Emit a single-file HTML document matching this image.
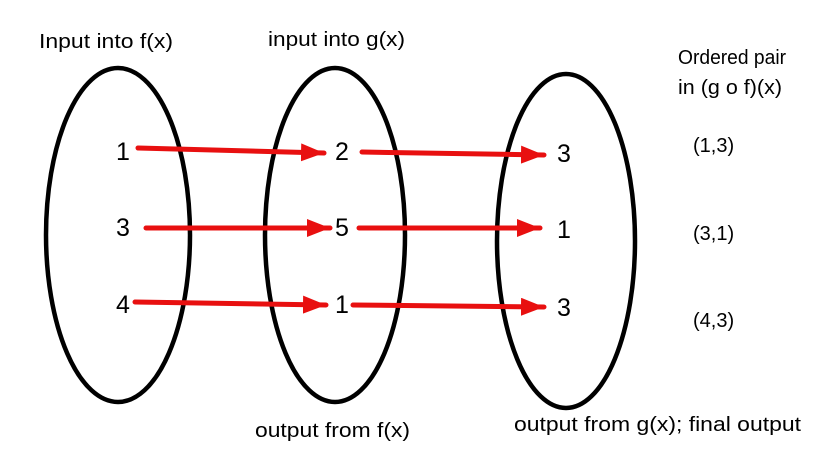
<!DOCTYPE html>
<html><head><style>body{margin:0;background:#fff}svg{display:block}</style></head><body>
<svg width="817" height="452" xmlns="http://www.w3.org/2000/svg" font-family="Liberation Sans, sans-serif">
<defs><marker id="a" markerWidth="4.6" markerHeight="3.6" refX="4.6" refY="1.8" orient="auto"><polygon points="0,0 4.6,1.8 0,3.6" fill="#e81010"/></marker></defs>
<g fill="none" stroke="#000" stroke-width="4.5">
<ellipse cx="118" cy="235" rx="72" ry="167"/>
<ellipse cx="335" cy="235" rx="70" ry="167"/>
<ellipse cx="566" cy="241" rx="69" ry="167"/>
</g>
<g stroke="#e81010" stroke-width="5" stroke-linecap="round" marker-end="url(#a)">
<line x1="138" y1="148" x2="324" y2="153"/>
<line x1="146" y1="228" x2="330" y2="228"/>
<line x1="135" y1="302" x2="326" y2="305"/>
<line x1="362" y1="152" x2="544" y2="155"/>
<line x1="359" y1="228" x2="540" y2="228"/>
<line x1="353" y1="305" x2="544" y2="307"/>
</g>
<g font-size="25" fill="#000" text-anchor="middle">
<text x="123" y="160">1</text><text x="123" y="236">3</text><text x="123" y="313">4</text>
<text x="342" y="160">2</text><text x="342" y="236">5</text><text x="342" y="313">1</text>
<text x="564" y="162">3</text><text x="564" y="238">1</text><text x="564" y="316">3</text>
</g>
<g font-size="20" fill="#000">
<text x="39" y="48" textLength="134" lengthAdjust="spacingAndGlyphs">Input into f(x)</text>
<text x="268" y="46" textLength="137" lengthAdjust="spacingAndGlyphs">input into g(x)</text>
<text x="678" y="64" textLength="108" lengthAdjust="spacingAndGlyphs">Ordered pair</text>
<text x="678" y="94" textLength="104" lengthAdjust="spacingAndGlyphs">in (g o f)(x)</text>
<text x="693" y="152">(1,3)</text>
<text x="693" y="240">(3,1)</text>
<text x="693" y="327">(4,3)</text>
<text x="255" y="437" textLength="155" lengthAdjust="spacingAndGlyphs">output from f(x)</text>
<text x="514" y="431" textLength="287" lengthAdjust="spacingAndGlyphs">output from g(x); final output</text>
</g>
</svg>
</body></html>
